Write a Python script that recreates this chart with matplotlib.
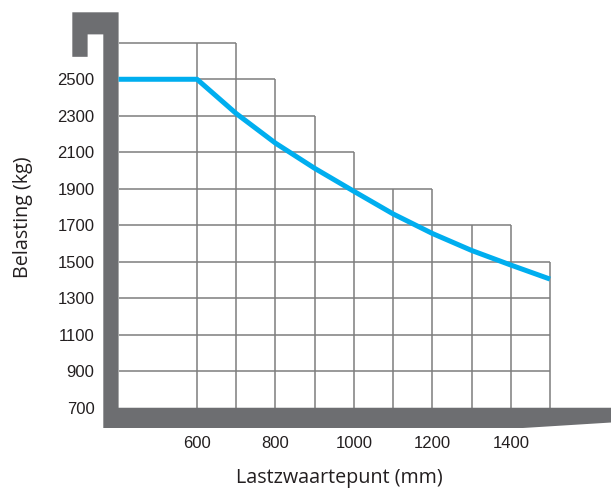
import matplotlib
matplotlib.use("Agg")
import matplotlib.pyplot as plt
from matplotlib.patches import Polygon

plt.rcParams["font.family"] = ["Liberation Sans", "DejaVu Sans"]

# ---- data ----
load_x = [400, 600, 700, 800, 900, 1000, 1100, 1200, 1300, 1400, 1500]
load_y = [2500, 2500, 2312, 2150, 2012, 1886, 1762, 1655, 1562, 1482, 1405]

x_ticks = [600, 800, 1000, 1200, 1400]
y_ticks = [700, 900, 1100, 1300, 1500, 1700, 1900, 2100, 2300, 2500]

# stepped grid: vertical lines and how high they reach
grid_vx = [600, 700, 800, 900, 1000, 1100, 1200, 1300, 1400, 1500]
grid_vtop = [2700, 2700, 2500, 2300, 2100, 1900, 1900, 1700, 1700, 1500]
# horizontal lines and how far right they reach
grid_hy = [900, 1100, 1300, 1500, 1700, 1900, 2100, 2300, 2500, 2700]
grid_hright = [1500, 1500, 1500, 1500, 1400, 1200, 1000, 900, 800, 700]

FORK = "#6d6e71"
GRID = "#7d7d7d"
BLUE = "#00aeef"
TEXT = "#231f20"

W, H = 611, 495
fig = plt.figure(figsize=(W / 100, H / 100), dpi=100)
left_px, right_px, top_px, bot_px = 103.3, 611, 12.3, 428
ax = fig.add_axes([left_px / W, (H - bot_px) / H,
                   (right_px - left_px) / W, (bot_px - top_px) / H])
ax.set_xlim(361, 1655.5)
ax.set_ylim(589, 2867)

# grid
ax.vlines(grid_vx, 700, grid_vtop, colors=GRID, linewidth=1.1, zorder=1)
ax.hlines(grid_hy, 400, grid_hright, colors=GRID, linewidth=1.1, zorder=1)

# fork shape
fork = [(282, 2867), (400, 2867), (400, 700), (1700, 700), (1700, 625),
        (1431, 589), (361, 589), (361, 2746), (321, 2746), (321, 2623),
        (282, 2623)]
ax.add_patch(Polygon(fork, closed=True, facecolor=FORK, edgecolor="none",
                     clip_on=False, zorder=3))

# load curve
ax.plot(load_x, load_y, color=BLUE, linewidth=3.6, solid_capstyle="butt",
        solid_joinstyle="round", zorder=4)

for s in ax.spines.values():
    s.set_visible(False)
ax.set_xticks(x_ticks)
ax.set_xticklabels([str(v) for v in x_ticks], fontfamily="Liberation Sans")
ax.set_yticks(y_ticks)
ax.set_yticklabels([str(v) for v in y_ticks], fontfamily="Liberation Sans")
ax.tick_params(length=0, labelsize=12, colors=TEXT)
ax.tick_params(axis="y", pad=6.3)
ax.tick_params(axis="x", pad=5.5)

ax.set_xlabel("Lastzwaartepunt (mm)", fontfamily="Open Sans", fontsize=14.2,
              color=TEXT, va="center", ha="center")
ax.xaxis.set_label_coords(0.4652, -0.1203)
ax.set_ylabel("Belasting (kg)", fontfamily="Open Sans", fontsize=14.2,
              color=TEXT, va="center", ha="center")
ax.yaxis.set_label_coords(-0.1576, 0.5064)

fig.savefig("out.png", dpi=100)
